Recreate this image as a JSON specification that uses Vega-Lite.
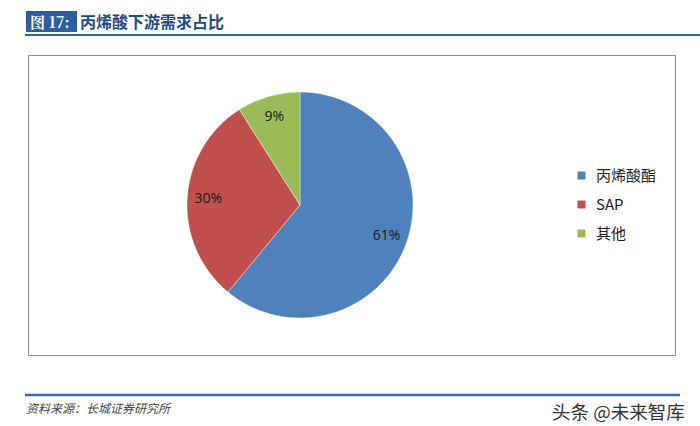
{
  "$schema": "https://vega.github.io/schema/vega-lite/v6.json",
  "autosize": {"type": "none"},
  "width": 647,
  "height": 300,
  "padding": {"left": 28, "top": 55, "right": 25, "bottom": 71},
  "background": "#ffffff",
  "view": {"stroke": "#8c8c8c", "strokeWidth": 1},
  "data": {
    "values": [
      {"category": "丙烯酸酯", "share": 61, "label": "61%", "rank": 1},
      {"category": "SAP", "share": 30, "label": "30%", "rank": 2},
      {"category": "其他", "share": 9, "label": "9%", "rank": 3}
    ]
  },
  "layer": [
    {
      "mark": {"type": "arc", "outerRadius": 113, "x": 272, "stroke": "#ffffff", "strokeWidth": 0.4},
      "encoding": {
        "theta": {"field": "share", "type": "quantitative", "stack": true},
        "order": {"field": "rank", "type": "quantitative"},
        "color": {
          "field": "category",
          "type": "nominal",
          "scale": {"domain": ["丙烯酸酯", "SAP", "其他"], "range": ["#4F81BD", "#C0504D", "#9BBB59"]},
          "legend": {
            "title": null,
            "orient": "none",
            "legendX": 546,
            "legendY": 113,
            "symbolType": "square",
            "symbolSize": 64,
            "symbolStrokeWidth": 0,
            "labelFont": "Noto Sans CJK SC",
            "labelFontSize": 15,
            "labelColor": "#222222",
            "labelOffset": 7,
            "rowPadding": 13
          }
        }
      }
    },
    {
      "mark": {"type": "text", "radius": 92, "x": 272, "font": "Open Sans", "fontSize": 14, "color": "#1a1a1a"},
      "encoding": {
        "theta": {"field": "share", "type": "quantitative", "stack": true},
        "order": {"field": "rank", "type": "quantitative"},
        "text": {"field": "label"}
      }
    },
    {
      "data": {"values": [{"t": "图 17:"}]},
      "layer": [
        {
          "mark": {"type": "rect", "fill": "#2D5E9E"},
          "encoding": {"x": {"value": -2}, "x2": {"value": 49}, "y": {"value": -44}, "y2": {"value": -23}}
        },
        {
          "mark": {"type": "text", "x": 2, "y": -27, "align": "left", "baseline": "alphabetic", "font": "Noto Serif CJK SC, Noto Sans CJK SC", "fontWeight": "bold", "fontSize": 15, "color": "#ffffff"},
          "encoding": {"text": {"field": "t"}}
        }
      ]
    },
    {
      "data": {"values": [{"t": "丙烯酸下游需求占比"}]},
      "mark": {"type": "text", "x": 52, "y": -27, "align": "left", "baseline": "alphabetic", "font": "Noto Sans CJK SC", "fontWeight": "bold", "fontSize": 16, "color": "#1F4A8A", "letterSpacing": 1},
      "encoding": {"text": {"field": "t"}}
    },
    {
      "data": {"values": [{"t": "header"}]},
      "mark": {"type": "rule", "color": "#2E64A8", "strokeWidth": 2},
      "encoding": {"x": {"value": -3}, "x2": {"value": 672}, "y": {"value": -20}, "y2": {"value": -20}}
    },
    {
      "data": {"values": [{"t": "footer"}]},
      "mark": {"type": "rule", "color": "#3A6DB0", "strokeWidth": 2.5},
      "encoding": {"x": {"value": -3}, "x2": {"value": 652}, "y": {"value": 340}, "y2": {"value": 340}}
    },
    {
      "data": {"values": [{"t": "资料来源：长城证券研究所"}]},
      "mark": {"type": "text", "x": -2, "y": 358, "align": "left", "baseline": "alphabetic", "font": "Noto Sans CJK SC", "fontStyle": "italic", "fontSize": 12, "color": "#444444"},
      "encoding": {"text": {"field": "t"}}
    },
    {
      "data": {"values": [{"t": "头条 @未来智库"}]},
      "mark": {"type": "text", "x": 524, "y": 364, "align": "left", "baseline": "alphabetic", "font": "Noto Sans CJK SC", "fontSize": 18.5, "color": "#333333"},
      "encoding": {"text": {"field": "t"}}
    }
  ]
}
